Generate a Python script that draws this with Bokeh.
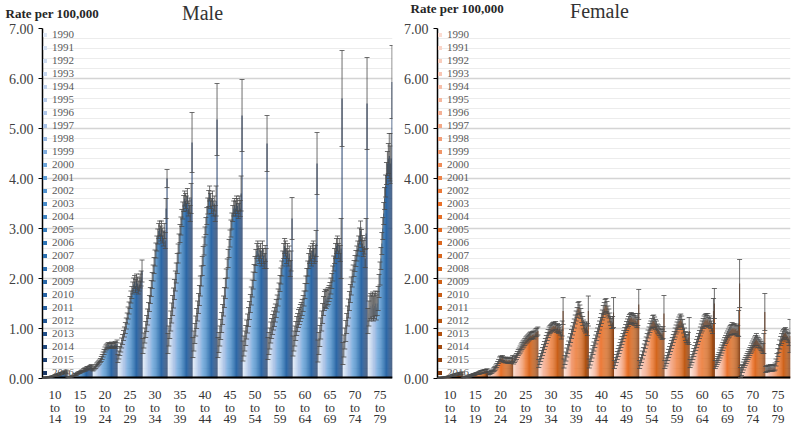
from bokeh.plotting import figure
from bokeh.models import (ColumnDataSource, FactorRange, Range1d, FixedTicker,
                          Whisker, TeeHead, Label, LabelSet, Legend, LegendItem,
                          PrintfTickFormatter, Span)
from bokeh.transform import dodge
from bokeh.layouts import row, column
from bokeh.embed import file_html
from bokeh.resources import INLINE
from bokeh.core.properties import value

# ---------------- data ----------------
years = ["1990", "1991", "1992", "1993", "1994", "1995", "1996", "1997", "1998",
         "1999", "2000", "2001", "2002", "2003", "2004", "2005", "2006", "2007",
         "2008", "2009", "2010", "2011", "2012", "2013", "2014", "2015", "2016"]
age_groups = ["10 to 14", "15 to 19", "20 to 24", "25 to 29", "30 to 34", "35 to 39",
              "40 to 44", "45 to 49", "50 to 54", "55 to 59", "60 to 64", "65 to 69",
              "70 to 74", "75 to 79"]
age_tick_labels = ["10\nto\n14", "15\nto\n19", "20\nto\n24", "25\nto\n29", "30\nto\n34",
                   "35\nto\n39", "40\nto\n44", "45\nto\n49", "50\nto\n54", "55\nto\n59",
                   "60\nto\n64", "65\nto\n69", "70\nto\n74", "75\nto\n79"]

# Male rates per 100,000 (1990..2016) and error half-widths
M_10_14 = [0.01,0.01,0.01,0.02,0.02,0.02,0.03,0.03,0.03,0.04,0.04,0.05,0.05,0.06,0.06,0.07,0.08,0.08,0.09,0.10,0.10,0.11,0.12,0.13,0.13,0.14,0.12]
M_15_19 = [0.02,0.03,0.03,0.04,0.04,0.05,0.06,0.07,0.08,0.08,0.10,0.11,0.12,0.12,0.14,0.15,0.15,0.17,0.18,0.18,0.20,0.21,0.20,0.22,0.23,0.24,0.21]
M_20_24 = [0.18,0.20,0.22,0.24,0.27,0.29,0.31,0.33,0.36,0.39,0.43,0.48,0.53,0.58,0.62,0.64,0.66,0.67,0.65,0.66,0.68,0.66,0.65,0.67,0.69,0.66,0.70]
M_25_29 = [0.40,0.47,0.55,0.62,0.71,0.78,0.86,0.93,1.01,1.10,1.20,1.31,1.41,1.52,1.63,1.72,1.81,1.88,1.93,1.85,1.96,1.90,1.82,1.88,1.95,2.00,2.15]
M_30_34 = [0.65,0.76,0.86,0.98,1.10,1.23,1.36,1.50,1.66,1.80,1.96,2.11,2.26,2.41,2.56,2.70,2.84,2.95,3.00,2.90,3.00,2.86,2.80,2.95,2.76,3.40,4.00]
M_35_39 = [0.70,0.85,1.00,1.15,1.31,1.46,1.61,1.78,1.95,2.11,2.30,2.50,2.70,2.90,3.05,3.21,3.36,3.50,3.60,3.55,3.50,3.65,3.40,3.46,3.30,3.60,4.72]
M_40_44 = [0.62,0.75,0.90,1.05,1.20,1.35,1.50,1.66,1.85,2.05,2.25,2.45,2.65,2.85,3.05,3.25,3.45,3.60,3.70,3.55,3.45,3.60,3.40,3.50,3.30,3.55,5.18]
M_45_49 = [0.62,0.72,0.85,0.98,1.12,1.28,1.45,1.62,1.80,2.00,2.20,2.40,2.60,2.80,3.00,3.15,3.30,3.40,3.45,3.40,3.50,3.45,3.35,3.50,3.40,3.70,5.26]
M_50_54 = [0.55,0.65,0.75,0.86,0.98,1.10,1.23,1.36,1.50,1.65,1.80,1.96,2.12,2.28,2.42,2.55,2.60,2.50,2.45,2.55,2.40,2.60,2.45,2.35,2.50,2.40,4.70]
M_55_59 = [0.60,0.70,0.80,0.92,1.00,1.08,1.16,1.23,1.31,1.40,1.50,1.62,1.75,1.90,2.05,2.20,2.40,2.55,2.65,2.60,2.45,2.55,2.40,2.50,2.20,2.35,3.20]
M_60_64 = [0.65,0.75,0.85,0.95,1.05,1.12,1.20,1.25,1.31,1.36,1.42,1.50,1.60,1.75,1.90,2.05,2.20,2.35,2.45,2.50,2.40,2.55,2.60,2.45,2.50,2.70,4.30]
M_65_69 = [0.55,0.70,0.85,1.00,1.15,1.30,1.45,1.55,1.60,1.58,1.62,1.65,1.70,1.76,1.85,1.95,2.10,2.30,2.45,2.55,2.65,2.70,2.55,2.65,2.50,2.60,5.60]
M_70_74 = [0.50,0.65,0.80,0.95,1.10,1.25,1.40,1.55,1.70,1.85,2.00,2.10,2.20,2.30,2.40,2.50,2.60,2.70,2.85,2.95,2.80,2.70,2.60,2.65,2.40,2.90,5.50]
M_75_79 = [1.15,1.30,1.40,1.45,1.42,1.48,1.40,1.45,1.50,1.42,1.50,1.60,1.85,2.10,2.40,2.70,3.00,3.30,3.60,3.85,4.10,4.30,4.40,4.45,4.30,4.40,5.93]

ME_10_14 = [0.01,0.01,0.01,0.01,0.01,0.01,0.01,0.01,0.01,0.01,0.01,0.01,0.01,0.02,0.02,0.02,0.02,0.02,0.02,0.02,0.02,0.02,0.02,0.02,0.02,0.03,0.03]
ME_15_19 = [0.01,0.01,0.01,0.01,0.01,0.01,0.01,0.02,0.02,0.02,0.02,0.02,0.02,0.02,0.02,0.02,0.02,0.03,0.03,0.03,0.03,0.03,0.03,0.03,0.03,0.04,0.04]
ME_20_24 = [0.03,0.03,0.03,0.04,0.04,0.04,0.04,0.04,0.04,0.05,0.05,0.05,0.05,0.05,0.05,0.05,0.05,0.05,0.05,0.05,0.05,0.05,0.05,0.05,0.05,0.06,0.07]
ME_25_29 = [0.08,0.08,0.09,0.09,0.10,0.10,0.10,0.10,0.11,0.11,0.11,0.12,0.12,0.12,0.12,0.12,0.12,0.13,0.13,0.13,0.13,0.13,0.13,0.13,0.14,0.15,0.22]
ME_30_34 = [0.15,0.15,0.15,0.16,0.16,0.16,0.16,0.16,0.16,0.16,0.16,0.16,0.16,0.16,0.15,0.15,0.15,0.15,0.15,0.15,0.15,0.15,0.15,0.15,0.16,0.20,0.18]
ME_35_39 = [0.20,0.20,0.20,0.20,0.20,0.20,0.20,0.20,0.20,0.20,0.20,0.19,0.19,0.18,0.18,0.17,0.17,0.16,0.15,0.15,0.15,0.15,0.15,0.15,0.16,0.30,0.60]
ME_40_44 = [0.20,0.20,0.20,0.20,0.20,0.20,0.20,0.20,0.20,0.20,0.19,0.19,0.18,0.18,0.17,0.17,0.16,0.16,0.15,0.15,0.15,0.15,0.15,0.15,0.16,0.30,0.72]
ME_45_49 = [0.20,0.20,0.20,0.20,0.20,0.20,0.20,0.20,0.20,0.19,0.19,0.18,0.18,0.17,0.17,0.16,0.16,0.15,0.15,0.15,0.15,0.15,0.15,0.15,0.16,0.35,0.72]
ME_50_54 = [0.20,0.20,0.20,0.20,0.19,0.19,0.19,0.18,0.18,0.18,0.17,0.17,0.16,0.16,0.16,0.15,0.15,0.15,0.15,0.15,0.15,0.15,0.15,0.15,0.16,0.20,0.56]
ME_55_59 = [0.22,0.22,0.21,0.21,0.20,0.20,0.19,0.19,0.18,0.18,0.17,0.17,0.16,0.16,0.16,0.15,0.15,0.15,0.15,0.15,0.15,0.15,0.15,0.15,0.16,0.20,0.42]
ME_60_64 = [0.20,0.20,0.20,0.19,0.19,0.18,0.18,0.17,0.17,0.16,0.16,0.16,0.15,0.15,0.15,0.15,0.15,0.15,0.15,0.15,0.15,0.15,0.15,0.15,0.16,0.26,0.62]
ME_65_69 = [0.22,0.22,0.21,0.21,0.20,0.20,0.19,0.19,0.18,0.18,0.17,0.17,0.16,0.16,0.16,0.15,0.15,0.15,0.15,0.15,0.15,0.15,0.15,0.15,0.16,0.60,0.96]
ME_70_74 = [0.22,0.22,0.21,0.21,0.20,0.20,0.19,0.19,0.18,0.18,0.17,0.17,0.16,0.16,0.16,0.15,0.15,0.15,0.16,0.20,0.18,0.16,0.16,0.16,0.18,0.30,0.92]
ME_75_79 = [0.25,0.25,0.25,0.25,0.25,0.25,0.25,0.25,0.25,0.25,0.24,0.24,0.23,0.23,0.22,0.22,0.22,0.22,0.22,0.22,0.22,0.24,0.30,0.45,0.35,0.50,0.73]

# Female rates per 100,000 (1990..2016) and error half-widths
F_10_14 = [0.00,0.01,0.01,0.01,0.01,0.02,0.02,0.02,0.03,0.03,0.03,0.04,0.04,0.05,0.05,0.06,0.06,0.07,0.07,0.08,0.08,0.09,0.09,0.10,0.10,0.11,0.10]
F_15_19 = [0.02,0.02,0.03,0.03,0.04,0.04,0.05,0.05,0.06,0.06,0.07,0.08,0.08,0.09,0.10,0.10,0.11,0.11,0.12,0.13,0.13,0.14,0.14,0.15,0.15,0.16,0.15]
F_20_24 = [0.10,0.11,0.12,0.13,0.14,0.16,0.18,0.20,0.23,0.26,0.30,0.34,0.38,0.40,0.39,0.41,0.38,0.37,0.36,0.38,0.36,0.35,0.37,0.36,0.35,0.38,0.40]
F_25_29 = [0.35,0.38,0.41,0.44,0.48,0.52,0.55,0.58,0.62,0.65,0.68,0.70,0.73,0.76,0.78,0.80,0.82,0.84,0.86,0.85,0.87,0.88,0.86,0.90,0.92,0.93,0.95]
F_30_34 = [0.30,0.36,0.42,0.48,0.54,0.60,0.66,0.72,0.78,0.84,0.90,0.95,0.98,1.00,1.02,1.04,1.05,1.03,1.06,1.00,1.02,0.98,1.00,0.95,0.88,1.00,1.35]
F_35_39 = [0.30,0.37,0.44,0.52,0.59,0.66,0.74,0.81,0.89,0.96,1.03,1.10,1.18,1.25,1.32,1.40,1.42,1.36,1.30,1.22,1.15,1.08,1.04,1.00,1.03,0.98,1.35]
F_40_44 = [0.30,0.36,0.43,0.50,0.57,0.64,0.71,0.78,0.85,0.92,0.99,1.06,1.13,1.20,1.27,1.34,1.40,1.45,1.47,1.42,1.35,1.30,1.22,1.15,1.10,1.12,1.32]
F_45_49 = [0.28,0.34,0.40,0.46,0.52,0.58,0.64,0.70,0.76,0.82,0.88,0.94,1.00,1.05,1.10,1.14,1.18,1.20,1.22,1.18,1.20,1.16,1.20,1.15,1.12,1.18,1.48]
F_50_54 = [0.28,0.34,0.40,0.47,0.54,0.61,0.68,0.75,0.82,0.89,0.95,1.01,1.06,1.10,1.14,1.15,1.12,1.08,1.05,1.00,0.98,0.95,0.92,0.90,0.88,0.92,1.30]
F_55_59 = [0.28,0.33,0.38,0.44,0.50,0.56,0.62,0.68,0.74,0.80,0.86,0.92,0.98,1.03,1.08,1.12,1.15,1.17,1.14,1.08,1.00,0.92,0.85,0.80,0.78,0.82,0.95]
F_60_64 = [0.30,0.35,0.40,0.46,0.52,0.58,0.64,0.70,0.76,0.82,0.88,0.94,1.00,1.05,1.10,1.13,1.16,1.18,1.15,1.18,1.12,1.15,1.10,1.05,1.00,1.35,1.50]
F_65_69 = [0.28,0.32,0.36,0.40,0.44,0.49,0.54,0.59,0.64,0.69,0.74,0.78,0.82,0.86,0.90,0.93,0.96,0.98,1.00,0.98,1.00,0.97,0.99,0.95,0.96,1.10,1.90]
F_70_74 = [0.12,0.16,0.20,0.25,0.30,0.34,0.38,0.42,0.46,0.50,0.54,0.58,0.62,0.66,0.70,0.73,0.76,0.78,0.75,0.72,0.70,0.68,0.65,0.62,0.60,0.70,1.33]
F_75_79 = [0.18,0.20,0.19,0.21,0.20,0.22,0.21,0.20,0.22,0.21,0.24,0.32,0.42,0.52,0.60,0.68,0.75,0.80,0.85,0.88,0.90,0.92,0.88,0.85,0.82,0.78,0.85]

FE_10_14 = [0.01,0.01,0.01,0.01,0.01,0.01,0.01,0.01,0.01,0.01,0.01,0.01,0.01,0.01,0.01,0.02,0.02,0.02,0.02,0.02,0.02,0.02,0.02,0.02,0.02,0.02,0.03]
FE_15_19 = [0.01,0.01,0.01,0.01,0.01,0.01,0.02,0.02,0.02,0.02,0.02,0.02,0.02,0.02,0.02,0.02,0.02,0.03,0.03,0.03,0.03,0.03,0.03,0.03,0.03,0.03,0.04]
FE_20_24 = [0.03,0.03,0.03,0.03,0.03,0.03,0.04,0.04,0.04,0.04,0.04,0.04,0.05,0.05,0.05,0.05,0.05,0.05,0.05,0.05,0.05,0.05,0.05,0.05,0.05,0.05,0.06]
FE_25_29 = [0.06,0.06,0.06,0.06,0.06,0.06,0.06,0.07,0.07,0.07,0.07,0.07,0.07,0.07,0.07,0.07,0.07,0.07,0.07,0.07,0.07,0.07,0.07,0.07,0.08,0.08,0.08]
FE_30_34 = [0.08,0.08,0.08,0.08,0.08,0.08,0.08,0.08,0.08,0.08,0.08,0.08,0.08,0.08,0.08,0.08,0.08,0.08,0.08,0.08,0.08,0.08,0.08,0.08,0.09,0.15,0.27]
FE_35_39 = [0.09,0.09,0.09,0.09,0.09,0.09,0.09,0.09,0.09,0.09,0.09,0.09,0.09,0.10,0.10,0.12,0.12,0.11,0.10,0.10,0.09,0.09,0.09,0.09,0.10,0.12,0.30]
FE_40_44 = [0.09,0.09,0.09,0.09,0.09,0.09,0.09,0.09,0.09,0.09,0.09,0.09,0.09,0.10,0.10,0.12,0.12,0.13,0.13,0.12,0.10,0.09,0.09,0.09,0.10,0.12,0.30]
FE_45_49 = [0.08,0.08,0.08,0.08,0.08,0.08,0.08,0.08,0.08,0.08,0.08,0.08,0.08,0.09,0.09,0.10,0.10,0.10,0.10,0.10,0.10,0.10,0.10,0.10,0.10,0.12,0.30]
FE_50_54 = [0.08,0.08,0.08,0.08,0.08,0.08,0.08,0.08,0.08,0.08,0.08,0.09,0.09,0.10,0.12,0.12,0.11,0.10,0.10,0.09,0.09,0.09,0.09,0.09,0.10,0.12,0.36]
FE_55_59 = [0.08,0.08,0.08,0.08,0.08,0.08,0.08,0.08,0.08,0.08,0.08,0.09,0.09,0.10,0.10,0.11,0.12,0.12,0.11,0.10,0.09,0.09,0.09,0.08,0.09,0.10,0.27]
FE_60_64 = [0.08,0.08,0.08,0.08,0.08,0.08,0.08,0.08,0.08,0.08,0.08,0.09,0.09,0.10,0.10,0.12,0.12,0.12,0.11,0.12,0.10,0.10,0.10,0.10,0.10,0.25,0.30]
FE_65_69 = [0.08,0.08,0.08,0.08,0.08,0.08,0.08,0.08,0.08,0.08,0.08,0.08,0.09,0.09,0.09,0.10,0.10,0.10,0.12,0.10,0.10,0.10,0.10,0.10,0.10,0.26,0.48]
FE_70_74 = [0.10,0.10,0.08,0.08,0.08,0.08,0.08,0.08,0.08,0.08,0.08,0.08,0.09,0.09,0.09,0.10,0.10,0.12,0.10,0.10,0.09,0.09,0.09,0.09,0.10,0.20,0.37]
FE_75_79 = [0.06,0.06,0.06,0.06,0.06,0.06,0.06,0.06,0.06,0.06,0.07,0.07,0.08,0.08,0.08,0.09,0.09,0.10,0.10,0.10,0.10,0.10,0.10,0.10,0.10,0.12,0.33]

male_rates = [M_10_14, M_15_19, M_20_24, M_25_29, M_30_34, M_35_39, M_40_44,
              M_45_49, M_50_54, M_55_59, M_60_64, M_65_69, M_70_74, M_75_79]
male_errs = [ME_10_14, ME_15_19, ME_20_24, ME_25_29, ME_30_34, ME_35_39, ME_40_44,
             ME_45_49, ME_50_54, ME_55_59, ME_60_64, ME_65_69, ME_70_74, ME_75_79]
female_rates = [F_10_14, F_15_19, F_20_24, F_25_29, F_30_34, F_35_39, F_40_44,
                F_45_49, F_50_54, F_55_59, F_60_64, F_65_69, F_70_74, F_75_79]
female_errs = [FE_10_14, FE_15_19, FE_20_24, FE_25_29, FE_30_34, FE_35_39, FE_40_44,
               FE_45_49, FE_50_54, FE_55_59, FE_60_64, FE_65_69, FE_70_74, FE_75_79]

# ---------------- styling ----------------
FONT = "Liberation Serif"
N = len(years)


def palette(anchors, n):
    out = []
    for i in range(n):
        for k in range(len(anchors) - 1):
            a_i, a_c = anchors[k]
            b_i, b_c = anchors[k + 1]
            if a_i <= i <= b_i:
                t = (i - a_i) / (b_i - a_i) if b_i > a_i else 0
                ca = [int(a_c[j:j + 2], 16) for j in (1, 3, 5)]
                cb = [int(b_c[j:j + 2], 16) for j in (1, 3, 5)]
                c = [round(ca[m] + (cb[m] - ca[m]) * t) for m in range(3)]
                out.append("#%02x%02x%02x" % tuple(c))
                break
    return out


male_colors = palette([(0, "#dde6f4"), (7, "#a9c2e6"), (11, "#5b9bd5"),
                       (16, "#2e75b6"), (21, "#255f9f"), (26, "#1b3866")], N)
female_colors = palette([(0, "#fbdcd2"), (6, "#f4b196"), (10, "#ef8c58"),
                         (13, "#ea7028"), (19, "#cf6118"), (23, "#b1510f"),
                         (26, "#84390c")], N)

W = 396          # width of each panel column
HEAD_H = 22      # header strip (rate label + panel title)
TOP = 6
FRAME_H = 350
AX_B = 9
FOOT_H = 40

label_lines = [s.split("\n") for s in age_tick_labels]


def make_header(title, rate_xy, title_xy):
    h = figure(width=W, height=HEAD_H, x_range=Range1d(0, W), y_range=Range1d(0, HEAD_H),
               x_axis_type=None, y_axis_type=None, output_backend="svg",
               toolbar_location=None, min_border=0)
    h.outline_line_color = None
    h.grid.visible = False
    h.add_layout(Label(x=rate_xy[0], y=rate_xy[1], text="Rate per 100,000",
                       text_font=FONT, text_font_size="13px", text_font_style="bold",
                       text_color="#262626", text_baseline="middle", text_align="left"))
    h.add_layout(Label(x=title_xy[0], y=title_xy[1], text=title, text_font=FONT,
                       text_font_size="20px", text_color="#333333",
                       text_baseline="middle", text_align="center"))
    return h


def make_panel(rates, errs, colors, bl, br):
    data = {"age": age_groups}
    for j in range(N):
        vals = [rates[g][j] for g in range(len(age_groups))]
        es = [errs[g][j] for g in range(len(age_groups))]
        data["v%d" % j] = vals
        data["u%d" % j] = [v + e for v, e in zip(vals, es)]
        data["l%d" % j] = [max(v - e, 0) for v, e in zip(vals, es)]
    src = ColumnDataSource(data)

    p = figure(x_range=FactorRange(*age_groups, range_padding=0),
               y_range=Range1d(0, 7), width=W, height=TOP + FRAME_H + AX_B,
               output_backend="svg", toolbar_location=None, x_axis_location=None,
               min_border_left=bl, min_border_right=br,
               min_border_top=TOP, min_border_bottom=AX_B)
    p.outline_line_color = None
    p.background_fill_color = "white"

    w = 1.0 / N
    items = []
    for j in range(N):
        off = (j - (N - 1) / 2) * w
        r = p.vbar(x=dodge("age", off, range=p.x_range), top="v%d" % j,
                   width=w * 1.05, source=src, fill_color=colors[j],
                   line_color=None)
        items.append(LegendItem(label=years[j], renderers=[r]))

    # category baseline (drawn at rate 0, half of it falls inside the frame)
    p.add_layout(Span(location=0, dimension="width", line_color="black",
                      line_width=4, level="guide"))

    for j in range(N):
        off = (j - (N - 1) / 2) * w
        wk = Whisker(base=dodge("age", off, range=p.x_range),
                     upper="u%d" % j, lower="l%d" % j, source=src,
                     line_color="#4a4a4a", line_width=0.8, level="annotation",
                     upper_head=TeeHead(size=5, line_color="#4a4a4a", line_width=0.8),
                     lower_head=TeeHead(size=5, line_color="#4a4a4a", line_width=0.8))
        p.add_layout(wk)

    leg = Legend(items=items, location="top_left", nrows=N)
    leg.glyph_width = 5
    leg.glyph_height = 5
    leg.label_height = 11
    leg.spacing = 1
    leg.padding = 0
    leg.margin = 0
    leg.label_standoff = 5
    leg.label_text_font = FONT
    leg.label_text_font_size = "11px"
    leg.label_text_line_height = 1.0
    leg.label_text_color = "#595959"
    leg.border_line_color = None
    leg.background_fill_alpha = 0
    p.add_layout(leg)

    # y axis
    p.yaxis.ticker = FixedTicker(ticks=[0, 1, 2, 3, 4, 5, 6, 7],
                                 minor_ticks=[k * 0.2 for k in range(36)])
    p.yaxis.formatter = PrintfTickFormatter(format="%.2f")
    p.yaxis.bounds = (0, 7)
    p.yaxis.axis_line_color = "black"
    p.yaxis.axis_line_width = 1.5
    p.yaxis.major_tick_out = 4
    p.yaxis.major_tick_in = 0
    p.yaxis.major_tick_line_color = "black"
    p.yaxis.minor_tick_line_color = None
    p.yaxis.major_label_standoff = 5
    p.yaxis.major_label_text_font = FONT
    p.yaxis.major_label_text_font_size = "14px"
    p.yaxis.major_label_text_color = "#404040"
    p.ygrid.grid_line_color = "#d4d4d4"
    p.ygrid.grid_line_width = 1.6
    p.ygrid.minor_grid_line_color = "#ececec"
    p.ygrid.minor_grid_line_width = 1
    p.xgrid.visible = False
    return p


def make_footer(p, bl, br):
    f = figure(x_range=p.x_range, y_range=Range1d(0, FOOT_H), width=W, height=FOOT_H,
               x_axis_type=None, y_axis_type=None, output_backend="svg",
               toolbar_location=None, min_border_left=bl, min_border_right=br,
               min_border_top=0, min_border_bottom=0)
    f.outline_line_color = None
    f.grid.visible = False
    lab_src = ColumnDataSource(dict(age=age_groups,
                                    a=[l[0] for l in label_lines],
                                    b=[l[1] for l in label_lines],
                                    c=[l[2] for l in label_lines]))
    for col, yy in (("a", FOOT_H - 7), ("b", FOOT_H - 19.5), ("c", FOOT_H - 31.5)):
        f.add_layout(LabelSet(x="age", y=yy, text=col, source=lab_src,
                              text_font=value(FONT), text_font_size=value("13px"),
                              text_color="#333333", text_align="center",
                              text_baseline="middle"))
    return f


h_male = make_header("Male", (5, HEAD_H - 13), (202, HEAD_H - 12))
h_female = make_header("Female", (14, HEAD_H - 8), (203, HEAD_H - 10))
p_male = make_panel(male_rates, male_errs, male_colors, 42, 4)
p_female = make_panel(female_rates, female_errs, female_colors, 41, 2)
f_male = make_footer(p_male, 42, 4)
f_female = make_footer(p_female, 41, 2)

layout = column(row(h_male, h_female), row(p_male, p_female), row(f_male, f_female))
open("out.html", "w").write(file_html(layout, INLINE))
